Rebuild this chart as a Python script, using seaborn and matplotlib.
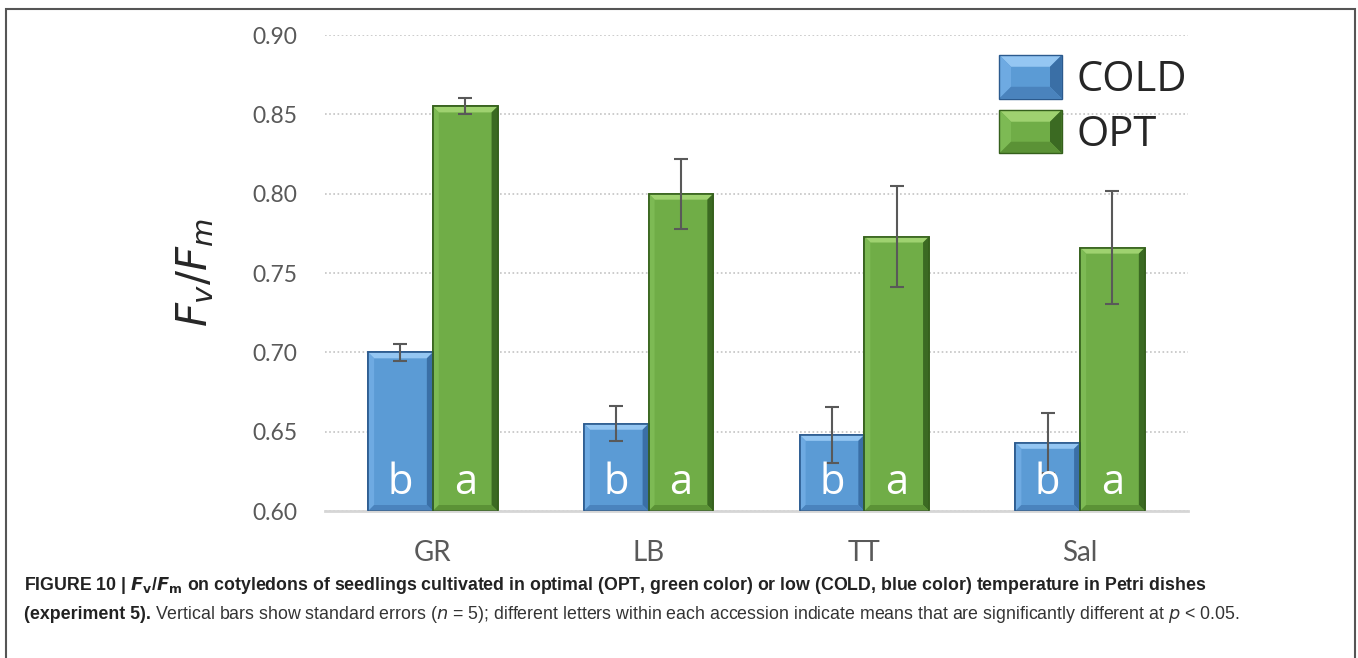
import pandas as pd
import matplotlib.pyplot as plt
import seaborn as sns
from matplotlib.patches import Patch, Rectangle, Polygon
from matplotlib.legend_handler import HandlerBase

sns.set_theme(style="white")
plt.rcParams['font.family'] = ['Lato', 'DejaVu Sans']

# Data
accessions = ['GR', 'LB', 'TT', 'Sal']
conditions = ['COLD', 'OPT']
cold_mean = [0.700, 0.655, 0.648, 0.643]
cold_se = [0.0055, 0.011, 0.0175, 0.019]
opt_mean = [0.855, 0.800, 0.773, 0.766]
opt_se = [0.005, 0.022, 0.032, 0.0355]
cold_letters = ['b', 'b', 'b', 'b']
opt_letters = ['a', 'a', 'a', 'a']
y_ticks = [0.60, 0.65, 0.70, 0.75, 0.80, 0.85, 0.90]

df = pd.DataFrame({
    'accession': accessions * 2,
    'condition': ['COLD'] * 4 + ['OPT'] * 4,
    'fvfm': cold_mean + opt_mean,
})
ses = {'COLD': cold_se, 'OPT': opt_se}
letters = {'COLD': cold_letters, 'OPT': opt_letters}

fill = {'COLD': '#5b9bd5', 'OPT': '#70ad47'}
edge = {'COLD': '#2b5a8e', 'OPT': '#35601c'}
# bevel shades: top, left, right, bottom
shades = {'COLD': ['#94c6f2', '#6eaae2', '#3a6fa6', '#4a83bd'],
          'OPT': ['#9fd270', '#7dba54', '#3b6a22', '#5b9236']}


def bevel_polys(x0, y0, w, h, bx, by, cond, transform, z):
    x1, y1 = x0 + w, y0 + h
    quads = [
        [(x0, y1), (x1, y1), (x1 - bx, y1 - by), (x0 + bx, y1 - by)],
        [(x0, y0), (x0, y1), (x0 + bx, y1 - by), (x0 + bx, y0 + by)],
        [(x1, y0), (x1, y1), (x1 - bx, y1 - by), (x1 - bx, y0 + by)],
        [(x0, y0), (x1, y0), (x1 - bx, y0 + by), (x0 + bx, y0 + by)],
    ]
    return [Polygon(q, closed=True, facecolor=c, edgecolor='none',
                    transform=transform, zorder=z)
            for q, c in zip(quads, shades[cond])]


class BevelHandler(HandlerBase):
    def create_artists(self, legend, orig_handle, xdescent, ydescent,
                       width, height, fontsize, trans):
        cond = orig_handle.get_label()
        x0, y0 = -xdescent, -ydescent
        base = Rectangle((x0, y0), width, height, facecolor=fill[cond],
                         edgecolor='none', transform=trans)
        b = height * 0.27
        arts = [base] + bevel_polys(x0, y0, width, height, b, b, cond, trans, 2)
        arts.append(Rectangle((x0, y0), width, height, fill=False,
                              edgecolor=edge[cond], linewidth=1, transform=trans))
        return arts


fig = plt.figure(figsize=(13.58, 6.58), dpi=100)
ax = fig.add_axes([0.2393, 0.2234, 0.6355, 0.7234])

sns.barplot(data=df, x='accession', y='fvfm', hue='condition', order=accessions,
            hue_order=conditions, palette=fill, saturation=1, width=0.6,
            errorbar=None, ax=ax, legend=False)

ax.set_ylim(0.60, 0.90)
ax.set_xlim(-0.5, 3.5)

# bevel size in data units (~6 px)
bx = 6 * 4.0 / 863
by = 6 * 0.30 / 476

for cont, cond in zip(ax.containers, conditions):
    xs = []
    for p in cont.patches:
        p.set_edgecolor(edge[cond])
        p.set_linewidth(1.2)
        x0, w, h = p.get_x(), p.get_width(), p.get_height()
        for poly in bevel_polys(x0, 0.60, w, h - 0.60, bx, by, cond, ax.transData, 2.5):
            ax.add_patch(poly)
        ax.add_patch(Rectangle((x0, 0.60), w, h - 0.60, fill=False,
                               edgecolor=edge[cond], linewidth=1.2, zorder=2.6))
        xs.append(x0 + w / 2)
    heights = [p.get_height() for p in cont.patches]
    ax.errorbar(xs, heights, yerr=ses[cond], fmt='none', ecolor='#595959',
                elinewidth=1.5, capsize=5, capthick=1.5, zorder=5)
    for x, lt in zip(xs, letters[cond]):
        ax.annotate(lt, (x, 0.60), xytext=(0, 5), textcoords='offset points',
                    ha='center', va='bottom', color='white', fontsize=30,
                    family=['Open Sans', 'DejaVu Sans'], zorder=6)

ax.set_yticks(y_ticks)
ax.set_yticklabels([f'{v:.2f}' for v in y_ticks])
ax.yaxis.grid(True, linestyle=(0, (1, 1.5)), color='#c4c4c4', linewidth=1.2)
ax.set_axisbelow(True)
for s in ['left', 'right', 'top']:
    ax.spines[s].set_visible(False)
ax.spines['bottom'].set_color('#d6d6d6')
ax.spines['bottom'].set_linewidth(2)
ax.tick_params(axis='y', length=0, pad=20, labelsize=16.5, labelcolor='#595959')
ax.tick_params(axis='x', length=0, pad=21, labelsize=20, labelcolor='#595959')
ax.set_xlabel('')
ax.set_ylabel(r'$F_v/F_m$', fontsize=30, labelpad=26)

handles = [Patch(label=c) for c in conditions]
ax.legend(handles, conditions, loc='upper right', bbox_to_anchor=(1.018, 0.993),
          frameon=False, handlelength=1.5, handleheight=1.23,
          handletextpad=0.35, labelspacing=0.22, borderaxespad=0,
          handler_map={Patch: BevelHandler()},
          prop={'family': ['Open Sans', 'DejaVu Sans'], 'size': 30})

# outer frame
fig.patches.append(Rectangle((0.0045, -0.1), 0.9935, 1.0865, transform=fig.transFigure,
                             fill=False, edgecolor='#555555', linewidth=1.5))

# caption
cap_family = ['Liberation Sans Narrow', 'Liberation Sans', 'DejaVu Sans']
t1 = fig.text(0.018, 0.103,
              r'FIGURE 10 | $\mathbfit{F}_{\mathbf{v}}$/$\mathbfit{F}_{\mathbf{m}}$ on cotyledons of seedlings '
              'cultivated in optimal (OPT, green color) or low (COLD, blue color) temperature in Petri dishes',
              fontsize=12.8, fontweight='bold', family=cap_family, color='#222222')
t2 = fig.text(0.018, 0.06, '(experiment 5).', fontsize=12.8, fontweight='bold',
              family=cap_family, color='#222222')
fig.canvas.draw()
bb = t2.get_window_extent()
x2 = fig.transFigure.inverted().transform((bb.x1 + 4, bb.y0))[0]
fig.text(x2, 0.06,
         r'Vertical bars show standard errors ($n$ = 5); different letters within each accession '
         r'indicate means that are significantly different at $p$ < 0.05.',
         fontsize=12.8, family=cap_family, color='#333333')

plt.savefig('out.png', dpi=100)
plt.close()
